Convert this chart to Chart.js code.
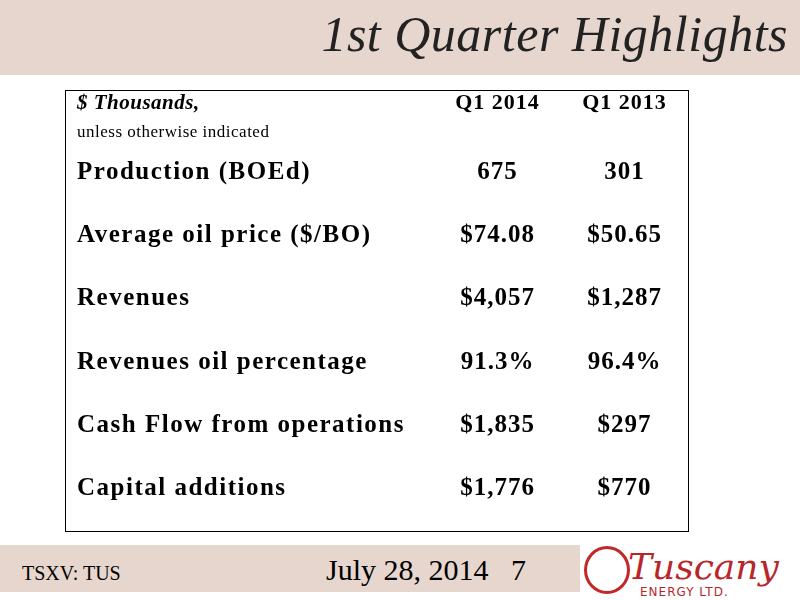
<!DOCTYPE html>
<html>
<head>
<meta charset="utf-8">
<script src="https://cdn.jsdelivr.net/npm/chart.js@4"></script>
<style>
  body { margin: 0; width: 800px; height: 600px; background: #fff; position: relative; overflow: hidden; font-family: "Liberation Serif", serif; }
  .band { position: absolute; background: #e7d6cd; }
  #title { position: absolute; right: 12px; top: 5px; font-size: 50px; font-style: italic; color: #222; letter-spacing: 0.5px; }
  #box { position: absolute; left: 65px; top: 90px; width: 622px; height: 440px; border: 1px solid #000; }
  #wrap { position: absolute; left: 53px; top: 78px; width: 635px; height: 442px; }
  #foot1 { position: absolute; left: 22px; top: 562px; font-size: 20px; }
  #foot2 { position: absolute; left: 326px; top: 553px; font-size: 30px; }
  #logo { position: absolute; left: 584px; top: 546px; width: 46px; height: 48px; border: 3px solid #c0282a; border-radius: 50%; box-sizing: border-box; }
  #tus { position: absolute; left: 628px; top: 546px; font-size: 36px; font-style: italic; color: #b8262a; font-family: "DejaVu Serif", serif; }
  #ltd { position: absolute; left: 640px; top: 585px; font-size: 12px; color: #b8262a; font-family: "DejaVu Sans", sans-serif; letter-spacing: 1px; }
</style>
</head>
<body>
<div class="band" style="left:0;top:0;width:800px;height:75px"></div>
<div id="title">1st Quarter Highlights</div>
<div id="box"></div>
<div id="wrap"><canvas id="c"></canvas></div>
<div class="band" style="left:0;top:545px;width:580px;height:47px"></div>
<div id="foot1">TSXV: TUS</div>
<div id="foot2">July 28, 2014 &nbsp;&nbsp;7</div>
<div id="logo"></div>
<div id="tus">Tuscany</div>
<div id="ltd">ENERGY LTD.</div>
<script>
const rows = ['header', 'Production (BOEd)', 'Average oil price ($/BO)', 'Revenues',
  'Revenues oil percentage', 'Cash Flow from operations', 'Capital additions'];
const columns = ['label', 'c1', 'c2', 'Q1 2014', 'Q1 2013'];
const q12014 = ['Q1 2014', '675', '$74.08', '$4,057', '91.3%', '$1,835', '$1,776'];
const q12013 = ['Q1 2013', '301', '$50.65', '$1,287', '96.4%', '$297', '$770'];

const textPlugin = {
  id: 'cellText',
  afterDatasetsDraw(chart) {
    const ctx = chart.ctx;
    const x = chart.scales.x, y = chart.scales.y;
    ctx.save();
    ctx.fillStyle = '#000';
    ctx.textBaseline = 'middle';
    rows.forEach((r, i) => {
      const py = y.getPixelForValue(i);
      ctx.textAlign = 'left';
      if (i === 0) {
        ctx.letterSpacing = '0.5px';
        ctx.font = 'italic bold 21px "Liberation Serif"';
        ctx.fillText('$ Thousands,', x.left + 24, py - 6);
        ctx.font = '17px "Liberation Serif"';
        ctx.fillText('unless otherwise indicated', x.left + 24, py + 23);
      } else {
        ctx.letterSpacing = '1.5px';
        ctx.font = 'bold 25px "Liberation Serif"';
        ctx.fillText(r, x.left + 24, py);
      }
    });
    ctx.letterSpacing = '1px';
    chart.data.datasets.forEach((ds, di) => {
      chart.getDatasetMeta(di).data.forEach((pt, i) => {
        ctx.textAlign = 'center';
        ctx.font = 'bold ' + (i === 0 ? 22 : 25) + 'px "Liberation Serif"';
        ctx.fillText(ds.texts[i], pt.x, i === 0 ? pt.y - 6 : pt.y);
      });
    });
    ctx.restore();
  }
};

new Chart(document.getElementById('c'), {
  type: 'scatter',
  data: {
    datasets: [
      { texts: q12014, data: rows.map(r => ({ x: 'Q1 2014', y: r })), pointRadius: 0 },
      { texts: q12013, data: rows.map(r => ({ x: 'Q1 2013', y: r })), pointRadius: 0 }
    ]
  },
  options: {
    responsive: true,
    maintainAspectRatio: false,
    animation: false,
    layout: { padding: 0 },
    plugins: { legend: { display: false }, tooltip: { enabled: false } },
    scales: {
      x: { type: 'category', labels: columns, offset: true, display: false },
      y: { type: 'category', labels: rows, offset: true, display: false }
    }
  },
  plugins: [textPlugin]
});
</script>
</body>
</html>
